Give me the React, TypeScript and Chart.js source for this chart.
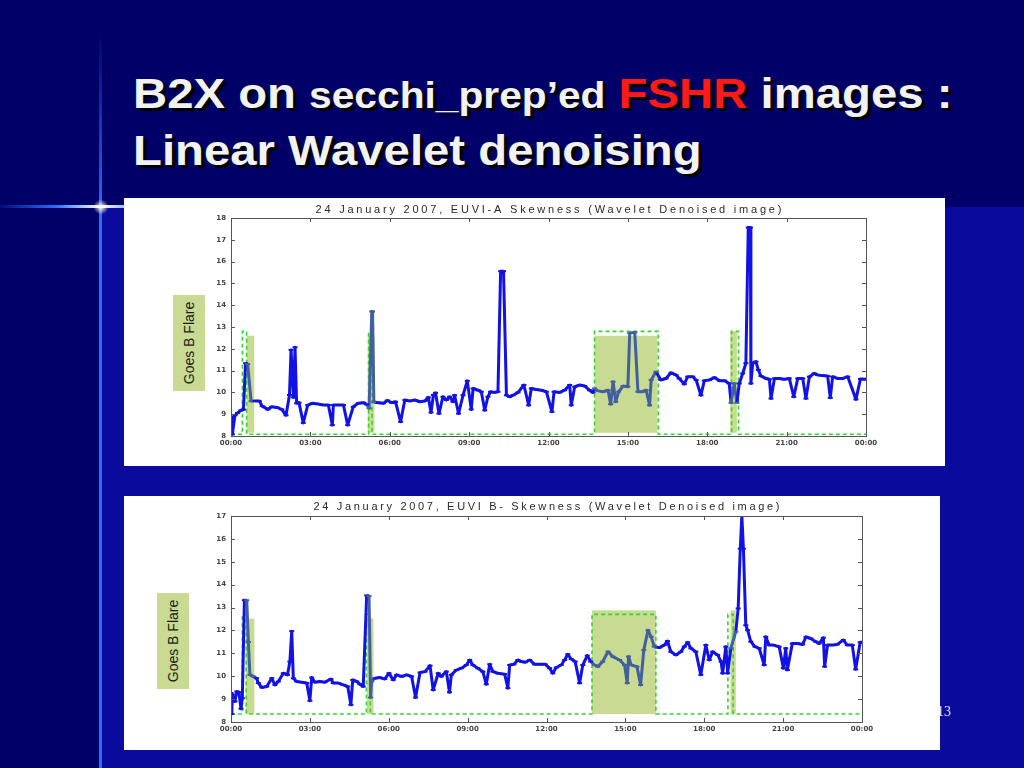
import React, { useEffect, useRef } from 'react';
import { Chart, registerables } from 'chart.js';

Chart.register(...registerables);

// ---------- data ----------
const xTickLabels = ['00:00', '03:00', '06:00', '09:00', '12:00', '15:00', '18:00', '21:00', '00:00'];

const titleA = '24 January 2007, EUVI-A Skewness (Wavelet Denoised image)';
const titleB = '24 January 2007, EUVI B- Skewness (Wavelet Denoised image)';

const timesA = [
  0.03, 0.05, 0.15, 0.25, 0.38, 0.47, 0.55, 0.63, 0.76, 0.91,
  1.07, 1.18, 1.39, 1.54, 1.73, 1.92, 2.08, 2.21, 2.27, 2.36,
  2.42, 2.48, 2.57, 2.73, 2.9, 3.07, 3.28, 3.49, 3.68, 3.83,
  3.87, 4.06, 4.25, 4.41, 4.62, 4.81, 5.0, 5.13, 5.22, 5.32,
  5.35, 5.4, 5.57, 5.76, 5.91, 6.07, 6.22, 6.41, 6.57, 6.76,
  6.95, 7.14, 7.33, 7.46, 7.56, 7.65, 7.73, 7.86,
  8.01, 8.14, 8.26, 8.39, 8.45, 8.6, 8.77, 8.93, 9.08, 9.15,
  9.34, 9.46, 9.59, 9.71, 9.81, 9.94, 10.09, 10.19, 10.3, 10.41,
  10.53, 10.66, 10.85, 11.07, 11.25, 11.35, 11.54, 11.73, 11.92, 12.13,
  12.21, 12.42, 12.61, 12.8, 12.86, 12.99, 13.18, 13.37, 13.55, 13.68,
  13.74, 13.87, 14.06, 14.25, 14.35, 14.44, 14.54, 14.65, 14.82, 15.0,
  15.07, 15.26, 15.38, 15.53, 15.69, 15.82, 15.88,
  16.06, 16.25, 16.44, 16.63, 16.82, 16.94, 17.13, 17.26, 17.45, 17.58,
  17.76, 17.89, 18.08, 18.27, 18.46, 18.65, 18.83, 18.9, 19.02, 19.12,
  19.21, 19.34, 19.46, 19.55, 19.63, 19.65, 19.72, 19.84, 19.93, 20.03,
  20.22, 20.35, 20.41, 20.54, 20.72, 20.91, 21.1, 21.27, 21.42, 21.61,
  21.73, 21.86, 22.04, 22.17, 22.36, 22.55, 22.65, 22.74, 22.93, 23.12,
  23.31, 23.62, 23.79, 24.0,
];
const valuesA = [
  8.88, 8.08, 8.95, 9.06, 9.18, 9.21, 11.34, 11.3, 9.6, 9.61,
  9.6, 9.37, 9.22, 9.34, 9.31, 9.22, 8.95, 9.88, 11.95, 9.77,
  12.07, 9.5, 9.53, 8.6, 9.42, 9.5, 9.47, 9.42, 9.42, 8.5,
  9.42, 9.42, 9.42, 8.5, 9.34, 9.5, 9.53, 9.45, 9.27, 13.71,
  13.71, 9.56, 9.53, 9.5, 9.63, 9.53, 9.57, 8.65, 9.65, 9.61,
  9.65, 9.57, 9.61, 9.77, 9.08, 9.88, 9.98, 9.03,
  9.8, 9.65, 9.8, 9.57, 9.87, 9.03, 9.87, 10.53, 9.22, 10.18,
  10.1, 10.03, 9.18, 9.8, 10.03, 10.0, 10.03, 15.56, 15.56, 9.87,
  9.8, 9.87, 10.0, 10.34, 9.41, 10.18, 10.13, 10.1, 10.03, 9.11,
  10.03, 10.0, 10.1, 10.34, 9.41, 10.26, 10.34, 10.29, 10.1, 10.0,
  10.18, 10.07, 10.03, 10.1, 9.46, 10.49, 9.57, 10.03, 10.29, 10.26,
  12.72, 12.75, 10.03, 10.03, 10.1, 9.41, 10.57,
  10.95, 10.57, 10.64, 10.9, 10.8, 10.64, 10.38, 10.72, 10.72, 10.57,
  9.87, 10.54, 10.57, 10.68, 10.54, 10.54, 10.41, 9.52, 10.41, 9.52,
  10.41, 10.87, 11.34, 17.56, 17.56, 10.41, 11.34, 11.41, 11.03, 10.75,
  10.64, 10.6, 9.72, 10.64, 10.64, 10.6, 10.64, 9.8, 10.64, 10.64,
  9.72, 10.72, 10.87, 10.8, 10.77, 10.75, 9.75, 10.72, 10.64, 10.64,
  10.72, 9.68, 10.62, 10.6,
];

const timesB = [
  0.0, 0.03, 0.05, 0.15, 0.22, 0.3, 0.38, 0.43, 0.51, 0.6,
  0.66, 0.72, 0.85, 0.97, 1.04, 1.17, 1.36, 1.55, 1.67, 1.8,
  1.99, 2.15, 2.24, 2.31, 2.37, 2.5, 2.69, 2.88, 3.0, 3.07,
  3.19, 3.38, 3.57, 3.8, 3.89, 4.08, 4.27, 4.44, 4.56, 4.63,
  4.78, 4.9, 5.03, 5.16, 5.25, 5.31, 5.35, 5.47, 5.66, 5.85,
  6.01, 6.17, 6.3, 6.49, 6.68, 6.87, 7.02, 7.19, 7.38, 7.57,
  7.69, 7.88,
  8.0, 8.19, 8.31, 8.38, 8.57, 8.76, 8.95, 9.08, 9.2, 9.39,
  9.58, 9.71, 9.84, 9.96, 10.15, 10.41, 10.53, 10.6, 10.76, 10.91,
  11.04, 11.19, 11.36, 11.55, 11.74, 11.95, 12.12, 12.24, 12.37, 12.56,
  12.69, 12.81, 12.94, 13.09, 13.26, 13.38, 13.55, 13.68, 13.83, 13.95,
  14.14, 14.34, 14.52, 14.78, 14.97, 15.07, 15.12, 15.22, 15.44, 15.58,
  15.7, 15.86, 15.98,
  16.1, 16.29, 16.48, 16.6, 16.73, 16.92, 17.11, 17.24, 17.37, 17.49,
  17.68, 17.87, 18.06, 18.19, 18.32, 18.51, 18.64, 18.7, 18.82, 18.89,
  19.01, 19.2, 19.29, 19.37, 19.43, 19.49, 19.58, 19.65, 19.77, 19.93,
  20.09, 20.28, 20.34, 20.47, 20.63, 20.85, 21.01, 21.1, 21.16, 21.35,
  21.55, 21.74, 21.87, 22.05, 22.24, 22.37, 22.53, 22.58, 22.69, 22.88,
  23.06, 23.29, 23.44, 23.63, 23.76, 23.93, 24.0,
];
const valuesB = [
  9.26, 8.35, 9.2, 8.9, 9.33, 9.3, 8.58, 9.04, 13.32, 13.32,
  11.5, 10.06, 9.99, 9.91, 9.7, 9.51, 9.55, 9.91, 9.62, 9.77,
  10.13, 10.06, 10.64, 11.97, 9.91, 9.77, 9.74, 9.7, 8.93, 9.94,
  9.74, 9.77, 9.74, 9.88, 9.7, 9.7, 9.62, 9.55, 8.75, 9.84,
  9.77, 9.65, 9.55, 13.53, 13.5, 9.07, 9.77, 9.91, 9.94, 9.88,
  10.13, 9.84, 10.06, 9.99, 10.06, 9.99, 9.07, 10.16, 10.2, 10.46,
  9.4, 10.13,
  9.99, 10.2, 9.3, 10.06, 10.27, 10.35, 10.49, 10.71, 10.49, 10.35,
  10.2, 9.65, 10.52, 10.2, 10.13, 10.09, 9.48, 10.49, 10.52, 10.71,
  10.64, 10.61, 10.71, 10.52, 10.52, 10.52, 10.35, 10.13, 10.38, 10.49,
  10.71, 10.96, 10.75, 10.64, 9.7, 10.49, 10.9, 10.64, 10.49, 10.42,
  10.64, 11.07, 10.86, 10.71, 10.49, 9.7, 10.86, 10.49, 10.42, 9.62,
  11.14, 12.01, 11.72,
  11.29, 11.25, 11.36, 11.54, 11.07, 10.93, 11.07, 11.29, 11.48, 11.22,
  11.07, 10.06, 11.36, 10.71, 11.07, 10.93, 10.64, 10.13, 11.29, 10.13,
  11.22, 11.94, 12.96, 15.57, 17.01, 15.57, 12.23, 12.01, 11.51, 11.29,
  11.22, 10.49, 11.72, 11.36, 11.36, 11.29, 10.35, 11.22, 10.27, 11.43,
  11.43, 11.39, 11.72, 11.65, 11.51, 11.43, 11.68, 10.42, 11.36, 11.36,
  11.39, 11.58, 11.36, 11.36, 10.3, 11.48, 11.48,
];

// GOES flare shaded intervals (hours) and their tops
const fillStartA = [0.59, 5.17, 13.74, 18.87];
const fillEndA = [0.88, 5.42, 16.12, 19.12];
const fillTopA = [12.6, 12.6, 12.6, 12.8];
const fillBottomA = 8.15;
const goesStartA = [0.43, 5.2, 13.74, 18.92];
const goesEndA = [0.59, 5.33, 16.15, 19.18];
const goesTopA = 12.8;
const goesBaseA = 8.08;

const fillStartB = [0.56, 5.17, 13.73, 19.0];
const fillEndB = [0.89, 5.42, 16.16, 19.2];
const fillTopB = [12.52, 12.52, 12.88, 12.88];
const fillBottomB = 8.35;
const goesStartB = [0.43, 5.15, 13.73, 18.9];
const goesEndB = [0.58, 5.3, 16.16, 19.1];
const goesTopB = 12.7;
const goesBaseB = 8.35;

// ---------- styling ----------
const BLUE = '#1212e6';
const SLATE = '#42609e';
const FILL = '#c9db92';
const GOES_GREEN = '#34d634';

const inside = (x: number, s: number[], e: number[]) => s.some((v, i) => x >= v && x <= e[i]);

const framePlugin = {
  id: 'frame',
  beforeDatasetsDraw(chart: any, _a: any, o: any) {
    const { ctx, scales } = chart;
    const x = scales.x, y = scales.y;
    ctx.save();
    ctx.fillStyle = FILL;
    o.fillStart.forEach((s: number, i: number) => {
      const x0 = x.getPixelForValue(s);
      const x1 = x.getPixelForValue(o.fillEnd[i]);
      const y0 = y.getPixelForValue(o.fillTop[i]);
      const y1 = y.getPixelForValue(o.fillBottom);
      ctx.fillRect(x0, y0, x1 - x0, y1 - y0);
    });
    ctx.restore();
  },
  afterDatasetsDraw(chart: any) {
    const { ctx, chartArea: a, scales } = chart;
    ctx.save();
    ctx.strokeStyle = '#555';
    ctx.lineWidth = 1;
    ctx.strokeRect(Math.round(a.left) + 0.5, Math.round(a.top) + 0.5, Math.round(a.right - a.left), Math.round(a.bottom - a.top));
    ctx.beginPath();
    const L = 4;
    scales.x.ticks.forEach((t: any) => {
      const px = Math.round(scales.x.getPixelForValue(t.value)) + 0.5;
      ctx.moveTo(px, a.top); ctx.lineTo(px, a.top + L);
      ctx.moveTo(px, a.bottom); ctx.lineTo(px, a.bottom - L);
    });
    scales.y.ticks.forEach((t: any) => {
      const py = Math.round(scales.y.getPixelForValue(t.value)) + 0.5;
      ctx.moveTo(a.left, py); ctx.lineTo(a.left + L, py);
      ctx.moveTo(a.right, py); ctx.lineTo(a.right - L, py);
    });
    ctx.stroke();
    ctx.restore();
  },
  afterDraw(chart: any, _a: any, o: any) {
    const { ctx, chartArea: a } = chart;
    ctx.save();
    ctx.font = '11px "Liberation Sans", Arial, sans-serif';
    ctx.fillStyle = '#2a2a2a';
    (ctx as any).letterSpacing = '0px';
    const w = ctx.measureText(o.title).width;
    const ls = (o.titleWidth - w) / (o.title.length - 1);
    (ctx as any).letterSpacing = ls.toFixed(2) + 'px';
    ctx.textAlign = 'left';
    ctx.textBaseline = 'middle';
    const cx = (a.left + a.right) / 2;
    ctx.fillText(o.title, cx - o.titleWidth / 2, a.top - o.titleOffset);
    ctx.restore();
  },
};

function buildGoes(starts: number[], ends: number[], top: number, base: number) {
  const pts: { x: number; y: number }[] = [{ x: 0, y: base }];
  starts.forEach((s, i) => {
    pts.push({ x: s, y: base }, { x: s, y: top }, { x: ends[i], y: top }, { x: ends[i], y: base });
  });
  pts.push({ x: 24, y: base });
  return pts;
}

function makeConfig(p: any): any {
  const tickFont = { family: '"DejaVu Sans", sans-serif', size: 7, weight: 'bold' as const };
  return {
    type: 'line',
    data: {
      datasets: [
        {
          data: p.times.map((t: number, i: number) => ({ x: t, y: p.values[i] })),
          borderColor: BLUE,
          borderWidth: 3,
          borderJoinStyle: 'round',
          pointStyle: 'line',
          pointRadius: 2.5,
          pointBorderWidth: 2,
          pointBorderColor: (c: any) => (c.raw && inside(c.raw.x, p.fillStart, p.fillEnd) ? SLATE : BLUE),
          pointBackgroundColor: BLUE,
          tension: 0,
          segment: {
            borderColor: (c: any) =>
              inside((c.p0.parsed.x + c.p1.parsed.x) / 2, p.fillStart, p.fillEnd) ? SLATE : BLUE,
          },
        },
        {
          data: buildGoes(p.goesStart, p.goesEnd, p.goesTop, p.goesBase),
          borderColor: GOES_GREEN,
          borderWidth: 1.6,
          borderDash: [4, 3],
          pointRadius: 0,
          tension: 0,
        },
      ],
    },
    options: {
      responsive: false,
      animation: false,
      events: [],
      layout: { padding: { left: 0, right: p.rightPad, top: 20, bottom: 0 }, autoPadding: false },
      plugins: {
        legend: { display: false },
        tooltip: { enabled: false },
        title: { display: false },
        frame: {
          fillStart: p.fillStart,
          fillEnd: p.fillEnd,
          fillTop: p.fillTop,
          fillBottom: p.fillBottom,
          title: p.title,
          titleWidth: 466,
          titleOffset: p.titleOffset,
        },
      },
      scales: {
        x: {
          type: 'linear',
          min: 0,
          max: 24,
          grid: { display: false, drawTicks: false },
          border: { display: false },
          ticks: {
            stepSize: 3,
            autoSkip: false,
            maxRotation: 0,
            padding: 3,
            color: '#444',
            font: tickFont,
            callback: (v: number) => xTickLabels[Math.round(v / 3)],
          },
          afterFit: (s: any) => { s.height = p.xAxisHeight; },
        },
        y: {
          type: 'linear',
          min: 8,
          max: p.yMax,
          grid: { display: false, drawTicks: false },
          border: { display: false },
          ticks: { stepSize: 1, padding: 5, color: '#444', font: tickFont, callback: (v: number) => String(v) },
          afterFit: (s: any) => { s.width = 107; },
        },
      },
    },
    plugins: [framePlugin],
  };
}

function ChartCanvas(props: { cfg: any; left: number; top: number; width: number; height: number }) {
  const ref = useRef<HTMLCanvasElement>(null);
  useEffect(() => {
    if (!ref.current) return;
    const chart = new Chart(ref.current, props.cfg);
    return () => chart.destroy();
  }, []);
  return (
    <canvas
      ref={ref}
      width={props.width}
      height={props.height}
      style={{ position: 'absolute', left: props.left, top: props.top, width: props.width, height: props.height, background: '#fff' }}
    />
  );
}

function FlareLabel(props: { left: number; top: number }) {
  return (
    <div
      style={{
        position: 'absolute', left: props.left, top: props.top, width: 32, height: 96, background: FILL,
        display: 'flex', alignItems: 'center', justifyContent: 'center',
      }}
    >
      <span style={{ transform: 'rotate(-90deg)', whiteSpace: 'nowrap', fontFamily: '"Liberation Sans", Arial, sans-serif', fontSize: 14, color: '#1a1a1a' }}>
        Goes B Flare
      </span>
    </div>
  );
}

export default function App() {
  const cfgA = makeConfig({
    times: timesA, values: valuesA, fillStart: fillStartA, fillEnd: fillEndA, fillTop: fillTopA, fillBottom: fillBottomA,
    goesStart: goesStartA, goesEnd: goesEndA, goesTop: goesTopA, goesBase: goesBaseA,
    yMax: 18, rightPad: 79, xAxisHeight: 30, title: titleA, titleOffset: 8,
  });
  const cfgB = makeConfig({
    times: timesB, values: valuesB, fillStart: fillStartB, fillEnd: fillEndB, fillTop: fillTopB, fillBottom: fillBottomB,
    goesStart: goesStartB, goesEnd: goesEndB, goesTop: goesTopB, goesBase: goesBaseB,
    yMax: 17, rightPad: 78, xAxisHeight: 28, title: titleB, titleOffset: 9,
  });
  return (
    <div style={{ position: 'absolute', left: 0, top: 0, width: 1024, height: 768, overflow: 'hidden', background: '#000068' }}>
      <div style={{ position: 'absolute', left: 100, top: 207, width: 924, height: 561, background: '#0a0a9c' }} />
      <div style={{ position: 'absolute', left: 99, top: 30, width: 3, height: 738, background: 'linear-gradient(to bottom, rgba(40,100,255,0) 0%, #2b6cff 25%, #2b6cff 100%)' }} />
      <div style={{ position: 'absolute', left: 0, top: 205, width: 125, height: 3, background: 'linear-gradient(to right, rgba(40,100,255,0.1) 0%, #2b6cff 45%, #dfeaff 75%, #ffffff 80%, #9bb8ff 100%)' }} />
      <div style={{ position: 'absolute', left: 92, top: 198, width: 18, height: 18, borderRadius: 9, background: 'radial-gradient(circle, rgba(255,255,240,1) 0%, rgba(255,255,220,0.6) 25%, rgba(255,255,255,0) 60%)' }} />
      <div
        style={{
          position: 'absolute', left: 133, top: 66, fontFamily: '"Liberation Sans", Arial, sans-serif', fontWeight: 'bold',
          fontSize: 43, lineHeight: '55px', color: '#f2f2f2', textShadow: '3px 3px 1px #000', whiteSpace: 'nowrap',
          transform: 'scaleX(1.1)', transformOrigin: 'left top',
        }}
      >
        <div>
          B2X on <span style={{ fontSize: 37 }}>secchi_prep’ed</span> <span style={{ color: '#ff1a1a' }}>FSHR</span> images :
        </div>
        <div>Linear Wavelet denoising</div>
      </div>
      <ChartCanvas cfg={cfgA} left={124} top={198} width={821} height={268} />
      <ChartCanvas cfg={cfgB} left={124} top={496} width={816} height={254} />
      <FlareLabel left={173} top={295} />
      <FlareLabel left={157} top={593} />
      <div style={{ position: 'absolute', left: 937, top: 704, zIndex: 2, fontFamily: '"Liberation Serif", serif', fontSize: 14, color: '#e6e6e6' }}>13</div>
    </div>
  );
}
